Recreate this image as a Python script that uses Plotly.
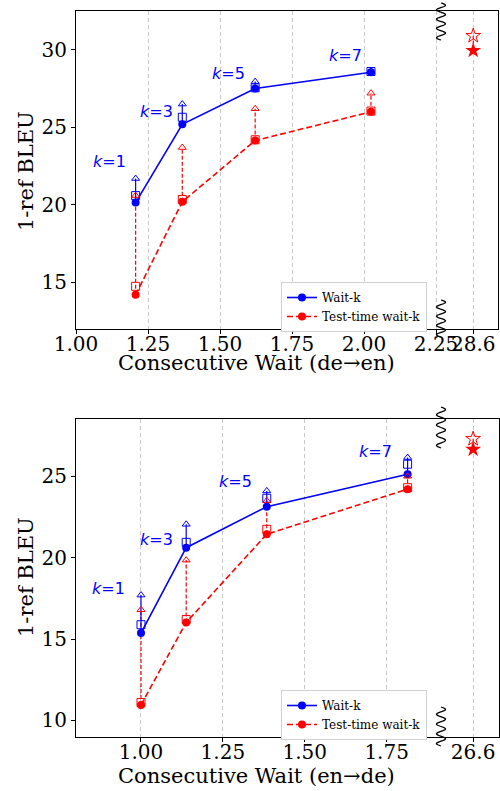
import numpy as np
import plotly.graph_objects as go

W, H = 500, 791

# ---- de->en (top) ----
de_cw = [1.207, 1.369, 1.622, 2.024]
de_waitk = [20.15, 25.2, 27.5, 28.55]
de_waitk_sq = [20.6, 25.65, 27.55, 28.6]
de_waitk_tri = [21.7, 26.5, 27.95, 28.6]
de_test = [14.2, 20.2, 24.15, 26.0]
de_test_sq = [14.75, 20.35, 24.2, 26.05]
de_test_tri = [20.6, 23.7, 26.2, 27.2]
de_full_cw = "28.6"
de_full = [30.9, 29.95]          # hollow star, filled star
de_xticks = [1.00, 1.25, 1.50, 1.75, 2.00, 2.25]

# ---- en->de (bottom) ----
en_cw = [1.00, 1.138, 1.384, 1.814]
en_waitk = [15.37, 20.61, 23.13, 25.12]
en_waitk_sq = [15.88, 20.94, 23.65, 25.74]
en_waitk_tri = [17.7, 22.05, 24.1, 26.15]
en_test = [10.95, 16.02, 21.44, 24.21]
en_test_sq = [11.1, 16.2, 21.74, 24.3]
en_test_tri = [16.8, 19.85, 23.5, 25.0]
en_full_cw = "26.6"
en_full = [27.3, 26.65]
en_xticks = [1.00, 1.25, 1.50, 1.75]

k_vals = [1, 3, 5, 7]

BLUE = "#0000ff"
RED = "#ff0000"
SERIF = "DejaVu Serif"


def px2x(p):
    return p / W


def px2y(p):
    return 1 - p / H


fig = go.Figure()


def segs(xs, y0s, y1s):
    X, Y = [], []
    for x, a, b in zip(xs, y0s, y1s):
        X += [x, x, None]
        Y += [a, b, None]
    return X, Y


def add_panel(xa, ya, legend, cw, wk, wk_sq, wk_tri, tt, tt_sq, tt_tri, full_x, full):
    # arrows (vertical)
    X, Y = segs(cw, tt, tt_tri)
    fig.add_trace(go.Scatter(x=X, y=Y, mode="lines", line=dict(color=RED, width=1.2, dash="4px,2px"),
                             xaxis=xa, yaxis=ya, showlegend=False, hoverinfo="skip"))
    X, Y = segs(cw, wk, wk_tri)
    fig.add_trace(go.Scatter(x=X, y=Y, mode="lines", line=dict(color=BLUE, width=1.2),
                             xaxis=xa, yaxis=ya, showlegend=False, hoverinfo="skip"))
    # main curves
    fig.add_trace(go.Scatter(x=cw, y=wk, mode="lines+markers", name="Wait-k",
                             line=dict(color=BLUE, width=1.6),
                             marker=dict(symbol="circle", size=8, color=BLUE),
                             xaxis=xa, yaxis=ya, legend=legend))
    fig.add_trace(go.Scatter(x=cw, y=tt, mode="lines+markers", name="Test-time wait-k",
                             line=dict(color=RED, width=1.6, dash="6px,3px"),
                             marker=dict(symbol="circle", size=8, color=RED),
                             xaxis=xa, yaxis=ya, legend=legend))
    # hollow squares and triangles
    for ys, col in ((wk_sq, BLUE), (tt_sq, RED)):
        fig.add_trace(go.Scatter(x=cw, y=ys, mode="markers",
                                 marker=dict(symbol="square-open", size=8, color=col, line=dict(width=1)),
                                 xaxis=xa, yaxis=ya, showlegend=False))
    for ys, col in ((wk_tri, BLUE), (tt_tri, RED)):
        fig.add_trace(go.Scatter(x=cw, y=ys, mode="markers",
                                 marker=dict(symbol="triangle-up-open", size=7, color=col, line=dict(width=1)),
                                 xaxis=xa, yaxis=ya, showlegend=False))
    # full-sentence stars
    fig.add_trace(go.Scatter(x=[full_x, full_x], y=full, mode="lines",
                             line=dict(color=RED, width=1.2, dash="3px,2px"),
                             xaxis=xa, yaxis=ya, showlegend=False))
    fig.add_trace(go.Scatter(x=[full_x], y=[full[0]], mode="markers",
                             marker=dict(symbol="star-open", size=11, color=RED, line=dict(width=1)),
                             xaxis=xa, yaxis=ya, showlegend=False))
    fig.add_trace(go.Scatter(x=[full_x], y=[full[1]], mode="markers",
                             marker=dict(symbol="star", size=12, color=RED),
                             xaxis=xa, yaxis=ya, showlegend=False))


# broken-axis positions of the full-sentence points
de_break_pos = 2.379
en_break_pos = 2.014

add_panel("x", "y", "legend", de_cw, de_waitk, de_waitk_sq, de_waitk_tri,
          de_test, de_test_sq, de_test_tri, de_break_pos, de_full)
add_panel("x2", "y2", "legend2", en_cw, en_waitk, en_waitk_sq, en_waitk_tri,
          en_test, en_test_sq, en_test_tri, en_break_pos, en_full)

# k labels
top_lbl = [(1.115, 22.8), (1.278, 26.0), (1.531, 28.5), (1.934, 29.6)]
bot_lbl = [(0.902, 18.1), (1.046, 21.1), (1.289, 24.7), (1.717, 26.55)]
for k, (x, y) in zip(k_vals, top_lbl):
    fig.add_annotation(x=x, y=y, xref="x", yref="y", text=f"<i>k</i>={k}", showarrow=False,
                       font=dict(family="DejaVu Sans", size=16, color=BLUE))
for k, (x, y) in zip(k_vals, bot_lbl):
    fig.add_annotation(x=x, y=y, xref="x2", yref="y2", text=f"<i>k</i>={k}", showarrow=False,
                       font=dict(family="DejaVu Sans", size=16, color=BLUE))

axis_common = dict(showline=True, linecolor="black", linewidth=1, mirror=True,
                   ticks="outside", ticklen=4, tickcolor="black", tickwidth=1, tickangle=0,
                   tickfont=dict(family=SERIF, size=20, color="black"), zeroline=False,
                   automargin=False)

fig.update_layout(
    width=W, height=H, margin=dict(l=0, r=0, t=0, b=0),
    plot_bgcolor="white", paper_bgcolor="white",
    xaxis=dict(domain=[px2x(76), px2x(498)], anchor="y", range=[1.0, 2.465],
               tickvals=de_xticks + [de_break_pos],
               ticktext=[f"{v:.2f}" for v in de_xticks] + [de_full_cw], ticklabelstandoff=-7,
               showgrid=True, gridcolor="#c8c8c8", griddash="4px,3px", gridwidth=1, **axis_common),
    yaxis=dict(domain=[px2y(329), px2y(11)], anchor="x", range=[12.0, 32.5],
               tickvals=[15, 20, 25, 30], showgrid=False, **axis_common),
    xaxis2=dict(domain=[px2x(76), px2x(499)], anchor="y2", range=[0.8016, 2.093],
                tickvals=en_xticks + [en_break_pos],
                ticktext=[f"{v:.2f}" for v in en_xticks] + [en_full_cw], ticklabelstandoff=-7,
                showgrid=True, gridcolor="#c8c8c8", griddash="4px,3px", gridwidth=1, **axis_common),
    yaxis2=dict(domain=[px2y(736.7), px2y(419.3)], anchor="x2", range=[9.0, 28.5],
                tickvals=[10, 15, 20, 25], showgrid=False, **axis_common),
    legend=dict(x=px2x(281), y=px2y(282), xanchor="left", yanchor="top",
                bgcolor="white", bordercolor="#d0d0d0", borderwidth=1,
                font=dict(family=SERIF, size=12, color="black")),
    legend2=dict(x=px2x(281), y=px2y(690), xanchor="left", yanchor="top",
                 bgcolor="white", bordercolor="#d0d0d0", borderwidth=1,
                 font=dict(family=SERIF, size=12, color="black")),
    showlegend=True,
)

# axis titles
for txt, y in (("Consecutive Wait (de→en)", 363), ("Consecutive Wait (en→de)", 776)):
    fig.add_annotation(x=px2x(256), y=px2y(y), xref="paper", yref="paper", text=txt, showarrow=False,
                       xanchor="center", yanchor="middle",
                       font=dict(family=SERIF, size=21, color="black"))
for y in (171, 577):
    fig.add_annotation(x=px2x(26), y=px2y(y), xref="paper", yref="paper", text="1-ref BLEU",
                       showarrow=False, textangle=-90, xanchor="center", yanchor="middle",
                       font=dict(family=SERIF, size=21, color="black"))


# zigzag break marks
def zigzag(xc, y0, y1, amp=4.5, periods=4):
    t = np.linspace(0, 1, 80)
    xs = xc + amp * np.sin(2 * np.pi * periods * t)
    ys = y0 + (y1 - y0) * t
    pts = [f"{px2x(a):.5f},{px2y(b):.5f}" for a, b in zip(xs, ys)]
    return "M " + " L ".join(pts)


for y0, y1 in ((3, 40), (300, 337), (407, 448), (707, 746)):
    fig.add_shape(type="path", path=zigzag(441, y0, y1), xref="paper", yref="paper",
                  line=dict(color="black", width=1.3))

# page body has a default margin; drop it so the figure fills the window
fig.write_html("out.html", config={"displayModeBar": False},
               post_script="document.body.style.margin='0';")
